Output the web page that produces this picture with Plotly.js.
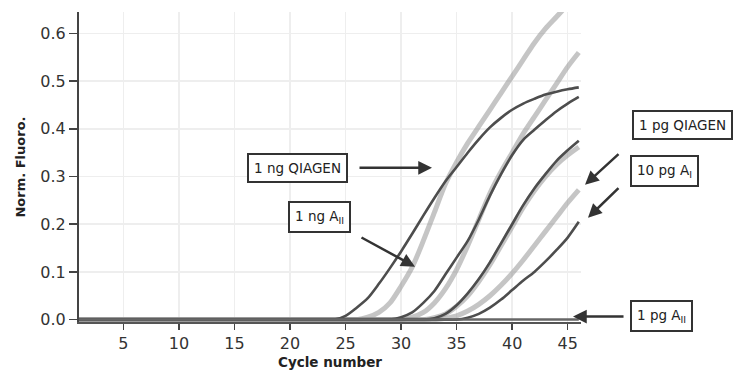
<!DOCTYPE html>
<html>
<head>
<meta charset="utf-8">
<script src="https://cdn.plot.ly/plotly-3.0.1.min.js"></script>
<style>html,body{margin:0;padding:0;background:#fff;}#chart{width:735px;height:379px;}</style>
</head>
<body>
<div id="chart"></div>
<script>
// Cycle numbers (x)
var cycles = [1,2,3,4,5,6,7,8,9,10,11,12,13,14,15,16,17,18,19,20,21,22,23,24,25,26,27,28,29,30,31,32,33,34,35,36,37,38,39,40,41,42,43,44,45,46];

// Dark curves
var ng1Qiagen = [0,0,0,0,0,0,0,0,0,0,0,0,0,0,0,0,0,0,0,0,0,0,0,0,
  0.008,0.025,0.045,0.075,0.108,0.143,0.18,0.218,0.255,0.29,0.32,0.35,0.378,0.403,0.423,0.44,0.453,0.463,0.472,0.478,0.483,0.487];
var darkB = [0,0,0,0,0,0,0,0,0,0,0,0,0,0,0,0,0,0,0,0,0,0,0,0,0,0,0,0,0,
  0.005,0.015,0.035,0.06,0.095,0.13,0.165,0.21,0.26,0.305,0.345,0.377,0.398,0.418,0.437,0.453,0.467];
var pg1Qiagen = [0,0,0,0,0,0,0,0,0,0,0,0,0,0,0,0,0,0,0,0,0,0,0,0,0,0,0,0,0,0,0,0,
  0.003,0.012,0.03,0.055,0.085,0.12,0.16,0.2,0.24,0.275,0.305,0.333,0.355,0.375];
var darkD = [0,0,0,0,0,0,0,0,0,0,0,0,0,0,0,0,0,0,0,0,0,0,0,0,0,0,0,0,0,0,0,0,0,0,0,
  0.004,0.012,0.025,0.042,0.062,0.082,0.1,0.122,0.146,0.172,0.205];
var pg1A = [0,0,0,0,0,0,0,0,0,0,0,0,0,0,0,0,0,0,0,0,0,0,0,0,0,0,0,0,0,0,0,0,0,0,0,0,0,0,0,0,0,0,0,0,0,0];

// Light curves
var ng1A = [0,0,0,0,0,0,0,0,0,0,0,0,0,0,0,0,0,0,0,0,0,0,0,0,0,0,
  0.005,0.015,0.035,0.07,0.11,0.165,0.225,0.285,0.33,0.37,0.405,0.44,0.475,0.51,0.545,0.58,0.61,0.635,0.66,0.68];
var lightB = [0,0,0,0,0,0,0,0,0,0,0,0,0,0,0,0,0,0,0,0,0,0,0,0,0,0,0,0,0,0,
  0.005,0.015,0.035,0.065,0.105,0.155,0.21,0.265,0.31,0.35,0.39,0.425,0.46,0.495,0.53,0.56];
var lightC = [0,0,0,0,0,0,0,0,0,0,0,0,0,0,0,0,0,0,0,0,0,0,0,0,0,0,0,0,0,0,0,0,
  0.004,0.012,0.028,0.05,0.08,0.115,0.155,0.195,0.235,0.27,0.3,0.325,0.345,0.362];
var pg10A = [0,0,0,0,0,0,0,0,0,0,0,0,0,0,0,0,0,0,0,0,0,0,0,0,0,0,0,0,0,0,0,0,0,
  0.003,0.008,0.018,0.032,0.05,0.072,0.097,0.125,0.155,0.185,0.215,0.245,0.272];

var xTicks = [5,10,15,20,25,30,35,40,45];
var yTicks = [0.0,0.1,0.2,0.3,0.4,0.5,0.6];

var FONT = '"DejaVu Sans", sans-serif';
var lightStyle = {color:'rgba(150,150,150,0.55)', width:5, shape:'spline', smoothing:0.8};
var darkStyle = {color:'#4d4d4d', width:2.6, shape:'spline', smoothing:0.8};

function tr(y, style){ return {x:cycles, y:y, type:'scatter', mode:'lines', line:style, hoverinfo:'skip', showlegend:false}; }

var data = [
  tr(ng1A, lightStyle), tr(lightB, lightStyle), tr(lightC, lightStyle), tr(pg10A, lightStyle),
  tr(ng1Qiagen, darkStyle), tr(darkB, darkStyle), tr(pg1Qiagen, darkStyle), tr(darkD, darkStyle),
  tr(pg1A, {color:'#666', width:2.5})
];

var boxFont = {family:FONT, size:13.5, color:'#222'};
function box(txt, x, y){
  return {xref:'paper', yref:'paper', x:x, y:y, text:txt, showarrow:false, font:boxFont,
    bordercolor:'#333', borderwidth:2, borderpad:5, bgcolor:'#fff', xanchor:'center', yanchor:'middle'};
}
function arrow(x, y, ax, ay){
  return {xref:'paper', yref:'paper', x:x, y:y, ax:ax, ay:ay, text:'', showarrow:true,
    arrowhead:2, arrowsize:1.1, arrowwidth:2.5, arrowcolor:'#333', standoff:0};
}

var layout = {
  width:735, height:379,
  margin:{l:79, r:154, t:12, b:57},
  paper_bgcolor:'#fff', plot_bgcolor:'#fff',
  font:{family:FONT, color:'#333'},
  xaxis:{range:[1,46.2], tickvals:xTicks, ticks:'outside', ticklen:6, tickwidth:1.5, tickcolor:'#444',
    showgrid:true, gridcolor:'#eeeeee', gridwidth:1.5, zeroline:false,
    showline:true, linecolor:'#555', linewidth:1.5,
    tickfont:{family:FONT, size:16, color:'#333'},
    title:{text:'<b>Cycle number</b>', font:{family:FONT, size:13.5, color:'#222'}, standoff:6}},
  yaxis:{range:[-0.005,0.645], tickvals:yTicks, tickformat:'.1f', ticks:'outside', ticklen:8, tickwidth:1.5, tickcolor:'#444',
    showgrid:true, gridcolor:'#eeeeee', gridwidth:1.5, zeroline:false,
    showline:true, linecolor:'#444', linewidth:2,
    tickfont:{family:FONT, size:16, color:'#333'},
    title:{text:'<b>Norm. Fluoro.</b>', font:{family:FONT, size:13, color:'#222'}, standoff:12}},
  annotations:[
    arrow(0.7032, 0.4974, -74, 0),
    arrow(0.6693, 0.1785, -55, -30),
    arrow(1.008, 0.4427, 35, -32),
    arrow(1.0139, 0.3363, 32, -31),
    arrow(0.9841, 0.0174, 52, 0),
    box('1 ng QIAGEN', 0.4343, 0.4955),
    box('1 ng A<sub>II</sub>', 0.4781, 0.338),
    box('1 pg QIAGEN', 1.2012, 0.6366),
    box('10 pg A<sub>I</sub>', 1.1663, 0.4878),
    box('1 pg A<sub>II</sub>', 1.1604, 0.0206)
  ]
};

Plotly.newPlot('chart', data, layout, {displayModeBar:false, staticPlot:true});
</script>
</body>
</html>
